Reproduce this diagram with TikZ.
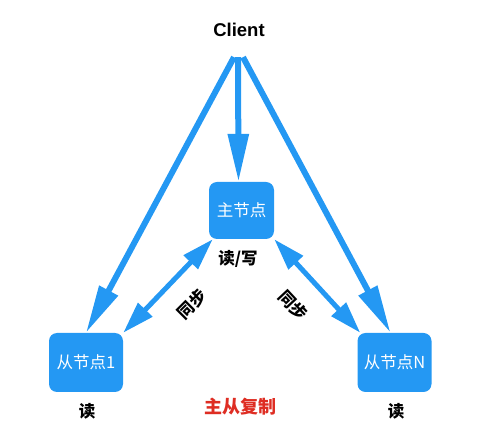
\documentclass[tikz,border=0pt]{standalone}
\usepackage{fontspec}
\setmainfont{Liberation Sans}
\newfontfamily\cjk{Noto Sans CJK SC}
\usetikzlibrary{arrows.meta}
\definecolor{nodeblue}{RGB}{36,152,243}
\definecolor{titlered}{RGB}{222,45,35}

\begin{document}
\begin{tikzpicture}[x=1pt,y=-1pt,
    box/.style={fill=nodeblue,rounded corners=8pt,text=white,inner sep=1pt,font=\cjk\fontsize{16.5}{18}\selectfont},
    arr/.style={draw=nodeblue,line width=6pt,-{Triangle[length=48pt,width=20pt]}},
    sync/.style={draw=nodeblue,line width=5pt,{Triangle[length=32pt,width=19pt]}-{Triangle[length=32pt,width=19pt]}},
    lbl/.style={font=\cjk\bfseries\fontsize{16.5}{18}\selectfont,inner sep=0pt}]
  \useasboundingbox (0,0) rectangle (480,446);
  % nodes
  \node[font=\bfseries\fontsize{18.5}{20}\selectfont,minimum height=54pt] (client) at (239,30) {Client};
  \node[box,minimum width=65pt,minimum height=57pt] (master) at (241.5,210.5) {主节点};
  \node[box,minimum width=74pt,minimum height=59pt] (slaveA) at (86,362.5) {从节点1};
  \node[box,minimum width=74pt,minimum height=59pt] (slaveN) at (394.5,362.5) {从节点N};
  % client reads and writes
  \draw[arr] ([xshift=-5pt]client.south) -- (slaveA.north);
  \draw[arr] ([xshift=-1pt]client.south) -- ([xshift=-3pt]master.north);
  \draw[arr] ([xshift=4pt]client.south) -- ([xshift=-4pt]slaveN.north);
  % replication
  \draw[sync] ([xshift=4pt]master.south west) -- (slaveA.north east);
  \draw[sync] (master.south east) -- ([xshift=3pt]slaveN.north west);
  % labels
  \node[lbl] (rw) at (238,259) {读/写};
  \node[lbl,rotate=45] (syncA) at (192,304) {同步};
  \node[lbl,rotate=-47] (syncN) at (293,305) {同步};
  \node[lbl] (readA) at (87,411) {读};
  \node[lbl] (readN) at (396,411) {读};
  \node[lbl,text=titlered,font=\cjk\bfseries\fontsize{18}{20}\selectfont] (title) at (240,407) {主从复制};
\end{tikzpicture}
\end{document}
